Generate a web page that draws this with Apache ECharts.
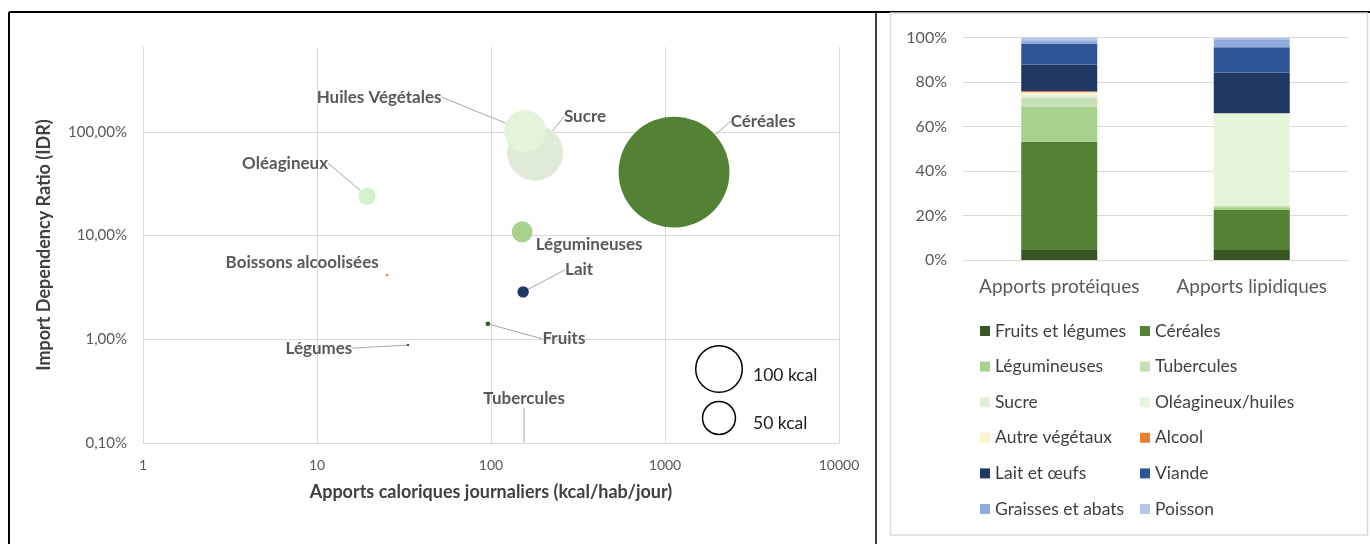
<!DOCTYPE html>
<html>
<head>
<meta charset="utf-8">
<script src="https://cdn.jsdelivr.net/npm/echarts@6/dist/echarts.min.js"></script>
<style>
html, body { margin: 0; padding: 0; background: #fff; }
#main { width: 1370px; height: 544px; }
</style>
</head>
<body>
<div id="main"></div>
<script>
// graphique a bulles : apports caloriques vs taux de dependance aux importations
var produits = ['Tubercules', 'Céréales', 'Sucre', 'Huiles Végétales', 'Oléagineux', 'Légumineuses', 'Lait', 'Fruits', 'Légumes', 'Boissons alcoolisées'];
var apportsKcal = [155, 1127, 179, 157, 19.4, 151, 153, 96, 33.3, 25.3];
var idrPct = [0.1, 41, 63, 102, 24, 10.9, 2.87, 1.41, 0.88, 4.18];
var tailleKcal = [0.05, 567, 144, 81, 14, 20, 6, 1, 0.3, 0.3];
var couleursBulles = ['#c5e0b4', '#548235', '#dfebd6', '#e4f4d9', '#d9f0cc', '#a9d18e', '#203864', '#375623', '#44546a', '#ed7d31'];
// decalage des etiquettes (px) par rapport au centre de la bulle
var decalages = [[0, -44], [89, -51], [50, -36], [-146, -34], [-82, -33], [67, 13], [56, -22], [76, 15], [-89, 3], [-85, -12]];
var sansLigne = ['Légumineuses', 'Boissons alcoolisées'];
var echelleX = ['1', '10', '100', '1000', '10000'];

// barres empilees : repartition des apports
var apports = ['Apports protéiques', 'Apports lipidiques'];
var groupes = ['Fruits et légumes', 'Céréales', 'Légumineuses', 'Tubercules', 'Sucre', 'Oléagineux/huiles', 'Autre végétaux', 'Alcool', 'Lait et œufs', 'Viande', 'Graisses et abats', 'Poisson'];
var partProteines = [4.8, 48.4, 15.7, 4.2, 1.3, 0.2, 0.9, 0.4, 12.0, 9.3, 1.7, 1.1];
var partLipides = [4.5, 18.0, 1.2, 0.7, 0, 41.4, 0.2, 0, 18.4, 11.3, 3.6, 0.7];
var couleursGroupes = ['#375623', '#548235', '#a9d18e', '#c5e0b4', '#e2f0d9', '#e6f6dc', '#fff2cc', '#ed7d31', '#203864', '#2f5597', '#8faadc', '#b4c7e7'];

var police = 'Lato';
var r100 = 23.3;
function diametre(kcal) { return 2 * r100 * Math.sqrt(kcal / 100); }

var myChart = echarts.init(document.getElementById('main'));

var bulles = produits.map(function (nom, i) {
    var item = {
        name: nom,
        value: [apportsKcal[i], idrPct[i], tailleKcal[i]],
        itemStyle: { color: couleursBulles[i] }
    };
    if (sansLigne.indexOf(nom) >= 0) item.labelLine = { show: false };
    return item;
});

var series = [{
    name: 'IDR',
    type: 'scatter',
    xAxisIndex: 0,
    yAxisIndex: 0,
    clip: false,
    symbolSize: function (v) { return diametre(v[2]); },
    itemStyle: { opacity: 1 },
    data: bulles,
    label: {
        show: true,
        position: 'inside',
        formatter: '{b}',
        fontFamily: police,
        fontWeight: 'bold',
        fontSize: 17,
        color: '#595959'
    },
    labelLine: { show: true, lineStyle: { color: '#a6a6a6', width: 1 } },
    labelLayout: function (p) {
        var d = decalages[p.dataIndex];
        return { dx: d[0], dy: d[1] };
    },
    emphasis: { disabled: true }
}];

groupes.forEach(function (g, i) {
    series.push({
        name: g,
        type: 'bar',
        xAxisIndex: 1,
        yAxisIndex: 1,
        stack: 'apports',
        barWidth: 76,
        itemStyle: { color: couleursGroupes[i] },
        data: [partProteines[i], partLipides[i]]
    });
});

var legendeBase = {
    orient: 'vertical',
    top: 317,
    icon: 'rect',
    itemWidth: 10,
    itemHeight: 10,
    itemGap: 17.6,
    selectedMode: false,
    textStyle: { fontFamily: police, fontSize: 17.5, color: '#404040', lineHeight: 18 }
};

var option = {
    animation: false,
    backgroundColor: '#fff',
    textStyle: { fontFamily: police },
    grid: [
        { left: 143, top: 47, width: 696, height: 396 },
        { left: 963, top: 37.7, width: 385, height: 222.3 }
    ],
    legend: [
        Object.assign({}, legendeBase, { left: 975, data: groupes.filter(function (g, i) { return i % 2 === 0; }) }),
        Object.assign({}, legendeBase, { left: 1135, data: groupes.filter(function (g, i) { return i % 2 === 1; }) })
    ],
    xAxis: [{
        type: 'log',
        gridIndex: 0,
        min: 1,
        max: 10000,
        name: 'Apports caloriques journaliers (kcal/hab/jour)',
        nameLocation: 'middle',
        nameGap: 40,
        nameTextStyle: { fontFamily: police, fontWeight: 'bold', fontSize: 18, color: '#404040' },
        axisLine: { show: true, lineStyle: { color: '#d9d9d9' } },
        axisTick: { show: false },
        axisLabel: {
            margin: 15, fontSize: 14, color: '#595959',
            formatter: function (v) { return echelleX[Math.round(Math.log10(v))]; }
        },
        splitLine: { show: true, lineStyle: { color: '#d9d9d9' } }
    }, {
        type: 'category',
        gridIndex: 1,
        data: apports,
        axisLine: { show: true, lineStyle: { color: '#d9d9d9' } },
        axisTick: { show: false },
        axisLabel: { interval: 0, margin: 17, fontSize: 19, color: '#595959' }
    }],
    yAxis: [{
        type: 'log',
        gridIndex: 0,
        min: 0.1,
        max: 660,
        name: 'Import Dependency Ratio (IDR)',
        nameLocation: 'middle',
        nameGap: 90,
        nameTextStyle: { fontFamily: police, fontWeight: 'bold', fontSize: 18, color: '#404040' },
        axisLine: { show: true, lineStyle: { color: '#d9d9d9' } },
        axisTick: { show: false },
        axisLabel: {
            margin: 16, fontSize: 15, color: '#595959', showMaxLabel: false,
            formatter: function (v) { return v.toFixed(2).replace('.', ',') + '%'; }
        },
        splitLine: { show: true, showMaxLine: false, lineStyle: { color: '#d9d9d9' } }
    }, {
        type: 'value',
        gridIndex: 1,
        min: 0,
        max: 100,
        interval: 20,
        axisLine: { show: false },
        axisTick: { show: false },
        axisLabel: { margin: 16, fontSize: 16, color: '#595959', formatter: '{value}%' },
        splitLine: { show: true, lineStyle: { color: '#d9d9d9' } }
    }],
    graphic: [
        { type: 'line', shape: { x1: 9, y1: 12, x2: 1370, y2: 12 }, style: { stroke: '#000', lineWidth: 2 } },
        { type: 'line', shape: { x1: 9, y1: 12, x2: 9, y2: 544 }, style: { stroke: '#000', lineWidth: 2 } },
        { type: 'line', shape: { x1: 876, y1: 12, x2: 876, y2: 544 }, style: { stroke: '#000', lineWidth: 1.5 } },
        { type: 'rect', shape: { x: 890.5, y: 13, width: 477, height: 522 }, style: { fill: null, stroke: '#d9d9d9', lineWidth: 1.5 } },
        { type: 'circle', shape: { cx: 719, cy: 369, r: diametre(100) / 2 }, style: { fill: '#fff', stroke: '#000', lineWidth: 1.5 } },
        { type: 'circle', shape: { cx: 719, cy: 418, r: diametre(50) / 2 }, style: { fill: '#fff', stroke: '#000', lineWidth: 1.5 } },
        { type: 'text', x: 753, y: 375, style: { text: '100 kcal', fontFamily: police, fontSize: 17.5, fill: '#222', verticalAlign: 'middle' } },
        { type: 'text', x: 753, y: 423, style: { text: '50 kcal', fontFamily: police, fontSize: 17.5, fill: '#222', verticalAlign: 'middle' } }
    ],
    series: series
};

myChart.setOption(option);
</script>
</body>
</html>
